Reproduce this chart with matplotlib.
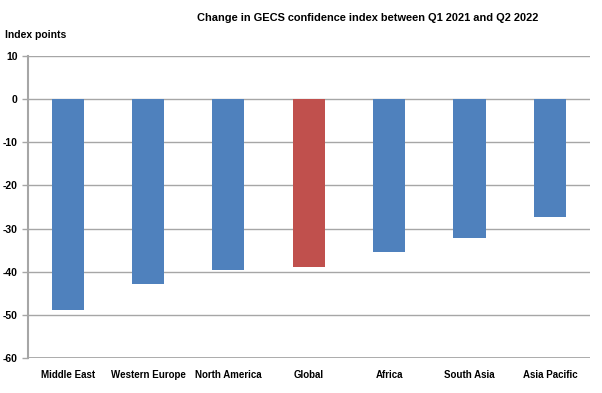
import numpy as np
import matplotlib.pyplot as plt

# data
regions = ['Middle East', 'Western Europe', 'North America', 'Global',
           'Africa', 'South Asia', 'Asia Pacific']
change = [-48.8, -42.9, -39.6, -39.0, -35.4, -32.2, -27.4]
yticks = [10, 0, -10, -20, -30, -40, -50, -60]

blue = '#4F81BD'
red = '#C0504D'
grid_col = '#A6A6A6'

plt.rcParams['font.family'] = ['Liberation Sans', 'DejaVu Sans']

fig = plt.figure(figsize=(6.02, 3.93), dpi=100)
ax = fig.add_axes([27.5/602, 1 - 358/393, (590 - 27.5)/602, (358 - 56)/393])

x = np.arange(len(regions))
colors = [red if r == 'Global' else blue for r in regions]
ax.bar(x, change, width=0.40, color=colors, zorder=3)

ax.set_xlim(-0.5, len(regions) - 0.5)
ax.set_ylim(-60, 10)
ax.set_yticks(yticks)
ax.set_yticklabels([str(t) for t in yticks], fontsize=7.5, fontweight='bold')
ax.set_xticks(x)
ax.set_xticklabels(regions, fontsize=7, fontweight='bold')

ax.yaxis.grid(True, color=grid_col, linewidth=1, zorder=0)
for s in ['top', 'right']:
    ax.spines[s].set_visible(False)
ax.spines['bottom'].set_visible(False)
ax.spines['left'].set_color(grid_col)
ax.spines['left'].set_linewidth(1.5)
ax.tick_params(axis='y', length=4, width=1, color=grid_col, pad=3)
ax.tick_params(axis='x', length=0, pad=9)
ax.axhline(-60, color=grid_col, linewidth=2, zorder=2)

fig.text(368/602, 1 - 18/393, 'Change in GECS confidence index between Q1 2021 and Q2 2022',
         ha='center', va='center', fontsize=7.9, fontweight='bold')
fig.text(5/602, 1 - 35/393, 'Index points', ha='left', va='center',
         fontsize=7.5, fontweight='bold')

fig.savefig('out.png', dpi=100, facecolor='white')
